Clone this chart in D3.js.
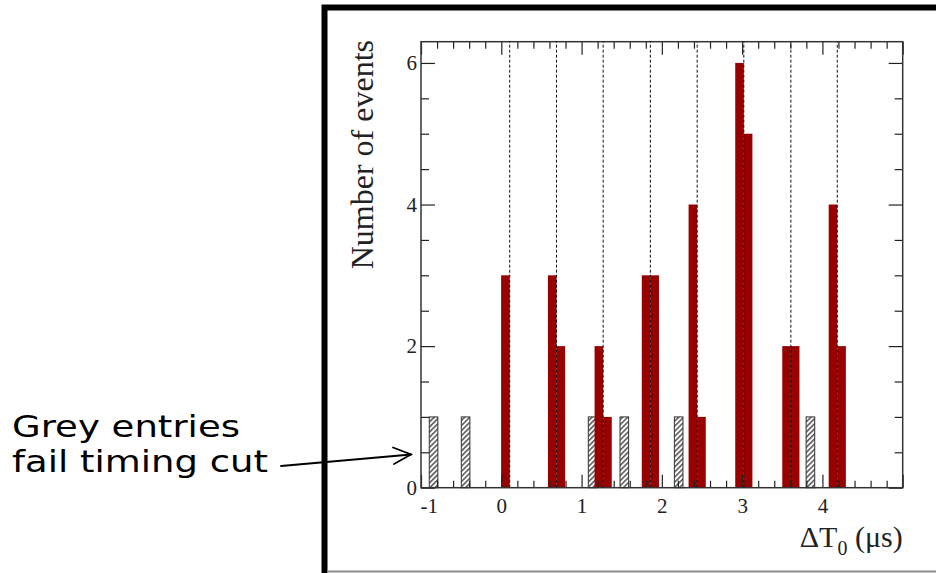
<!DOCTYPE html>
<html>
<head>
<meta charset="utf-8">
<script src="https://cdn.jsdelivr.net/npm/d3@7"></script>
<style>
  html, body { margin: 0; padding: 0; background: #fff; }
  svg { display: block; }
</style>
</head>
<body>
<svg id="chart" width="936" height="573"></svg>
<script>
// Bunch arrival times (µs): dashed reference lines
const bunchTimes = [0.105, 0.688, 1.269, 1.857, 2.440, 3.021, 3.607, 4.185];
// Events in the bin just before / just after each bunch time
const earlyCounts = [3, 3, 2, 3, 4, 6, 2, 4];
const lateCounts  = [0, 2, 1, 3, 1, 5, 2, 2];
const binWidth = 0.107;
// Entries failing the timing cut: bin start (µs) and count
const failedStarts = [-0.897, -0.498, 1.084, 1.479, 2.156, 3.797];
const failedCounts = [1, 1, 1, 1, 1, 1];
// Axis labels
const xTickLabels = [-1, 0, 1, 2, 3, 4];
const yTickLabels = [0, 2, 4, 6];
const xDomain = [-1, 5];
const yDomain = [0, 6.3];

const svg = d3.select("#chart");
const plot = { left: 421, right: 902.7, top: 41.7, bottom: 487.7 };

const x = d3.scaleLinear().domain(xDomain).range([plot.left, plot.right]);
const y = d3.scaleLinear().domain(yDomain).range([plot.bottom, plot.top]);

// hatch for the grey entries
const defs = svg.append("defs");
const pat = defs.append("pattern")
  .attr("id", "hatch").attr("patternUnits", "userSpaceOnUse")
  .attr("width", 3.6).attr("height", 3.6)
  .attr("patternTransform", "rotate(45)");
pat.append("rect").attr("width", 3.6).attr("height", 3.6).attr("fill", "#fff");
pat.append("line").attr("x1", 0.8).attr("y1", 0).attr("x2", 0.8).attr("y2", 3.6)
  .attr("stroke", "#333").attr("stroke-width", 1.3);

// outer picture frame
svg.append("path")
  .attr("d", "M324.5,573 V7.5 H936")
  .attr("fill", "none").attr("stroke", "#000").attr("stroke-width", 6);
svg.append("line")
  .attr("x1", 327).attr("x2", 936).attr("y1", 571.5).attr("y2", 571.5)
  .attr("stroke", "#8a8a8a").attr("stroke-width", 2);

// grey (failed) histogram
svg.append("g").selectAll("rect")
  .data(failedStarts.map((s, i) => ({ x0: s, n: failedCounts[i] })))
  .join("rect")
  .attr("x", d => x(d.x0))
  .attr("width", d => x(d.x0 + binWidth) - x(d.x0))
  .attr("y", d => y(d.n))
  .attr("height", d => y(0) - y(d.n))
  .attr("fill", "url(#hatch)")
  .attr("stroke", "#333").attr("stroke-width", 1);

// red (selected) histogram
const redBins = [];
bunchTimes.forEach((t, i) => {
  if (earlyCounts[i] > 0) redBins.push({ x0: t - binWidth, x1: t, n: earlyCounts[i] });
  if (lateCounts[i] > 0) redBins.push({ x0: t, x1: t + binWidth, n: lateCounts[i] });
});
svg.append("g").selectAll("rect")
  .data(redBins)
  .join("rect")
  .attr("x", d => x(d.x0))
  .attr("width", d => x(d.x1) - x(d.x0))
  .attr("y", d => y(d.n))
  .attr("height", d => y(0) - y(d.n))
  .attr("fill", "#990000");

// bunch reference lines
svg.append("g").selectAll("line")
  .data(bunchTimes)
  .join("line")
  .attr("x1", d => x(d)).attr("x2", d => x(d))
  .attr("y1", y(0)).attr("y2", plot.top)
  .attr("stroke", "#111").attr("stroke-width", 1)
  .attr("stroke-dasharray", "3,2");

// axes with inward ticks on all four sides
const near = (a, b) => Math.abs(a - b) < 1e-6;
const xMinor = d3.range(-1, 5.0001, 0.2).map(v => +v.toFixed(1))
  .filter(v => !xTickLabels.some(t => near(t, v)) && !near(v, 5));
const xMajor = xTickLabels.concat([5]);
const yMinor = d3.range(0, 6.3, 0.5).filter(v => !yTickLabels.some(t => near(t, v)));

const tickFont = "'Liberation Serif', 'Times New Roman', serif";

function styleAxis(g) {
  g.select(".domain").remove();
  g.selectAll(".tick line").attr("stroke", "#222").attr("stroke-width", 1.2);
  g.selectAll(".tick text").attr("fill", "#222")
    .style("font-family", tickFont).style("font-size", "21px");
}

svg.append("g").attr("transform", `translate(0,${plot.bottom})`)
  .call(d3.axisBottom(x).tickValues(xMinor).tickSize(-7).tickFormat(""))
  .call(styleAxis);
const xMajorAxis = svg.append("g").attr("transform", `translate(0,${plot.bottom})`)
  .call(d3.axisBottom(x).tickValues(xMajor).tickSize(-13).tickPadding(10)
    .tickFormat(d => xTickLabels.includes(d) ? String(d) : ""))
  .call(styleAxis);
// the leftmost label starts at the axis edge, clear of the y "0"
xMajorAxis.selectAll(".tick text").filter(d => d === xDomain[0])
  .attr("text-anchor", "start").attr("dx", -1);

svg.append("g").attr("transform", `translate(0,${plot.top})`)
  .call(d3.axisTop(x).tickValues(xMinor).tickSize(-7).tickFormat(""))
  .call(styleAxis);
svg.append("g").attr("transform", `translate(0,${plot.top})`)
  .call(d3.axisTop(x).tickValues(xMajor).tickSize(-13).tickFormat(""))
  .call(styleAxis);

svg.append("g").attr("transform", `translate(${plot.left},0)`)
  .call(d3.axisLeft(y).tickValues(yMinor).tickSize(-8).tickFormat(""))
  .call(styleAxis);
svg.append("g").attr("transform", `translate(${plot.left},0)`)
  .call(d3.axisLeft(y).tickValues(yTickLabels).tickSize(-14).tickPadding(4)
    .tickFormat(d => String(d)))
  .call(styleAxis);
svg.append("g").attr("transform", `translate(${plot.right},0)`)
  .call(d3.axisRight(y).tickValues(yMinor).tickSize(-8).tickFormat(""))
  .call(styleAxis);
svg.append("g").attr("transform", `translate(${plot.right},0)`)
  .call(d3.axisRight(y).tickValues(yTickLabels).tickSize(-14).tickFormat(""))
  .call(styleAxis);

// plot frame
svg.append("rect")
  .attr("x", plot.left).attr("y", plot.top)
  .attr("width", plot.right - plot.left).attr("height", plot.bottom - plot.top)
  .attr("fill", "none").attr("stroke", "#333").attr("stroke-width", 1.5);

// axis titles
const xt = svg.append("text")
  .attr("x", plot.right).attr("y", 546.5)
  .attr("text-anchor", "end")
  .style("font-family", tickFont).style("font-size", "30px").attr("fill", "#222");
xt.append("tspan").text("ΔT");
xt.append("tspan").attr("dy", 8).style("font-size", "20px").text("0");
xt.append("tspan").attr("dy", -8).text(" (μs)");

svg.append("text")
  .attr("transform", `translate(373,40) rotate(-90)`)
  .attr("text-anchor", "end")
  .style("font-family", tickFont).style("font-size", "32px").attr("fill", "#222")
  .text("Number of events");

// annotation
const noteFont = "'DejaVu Sans', Verdana, sans-serif";
svg.append("text")
  .attr("x", 12).attr("y", 436.5)
  .attr("textLength", 228).attr("lengthAdjust", "spacingAndGlyphs")
  .style("font-family", noteFont).style("font-size", "30px").attr("fill", "#000")
  .text("Grey entries");
svg.append("text")
  .attr("x", 12).attr("y", 471.5)
  .attr("textLength", 256).attr("lengthAdjust", "spacingAndGlyphs")
  .style("font-family", noteFont).style("font-size", "30px").attr("fill", "#000")
  .text("fail timing cut");

const arrow = svg.append("g").attr("stroke", "#000").attr("stroke-width", 1.8)
  .attr("fill", "none").attr("stroke-linecap", "round");
arrow.append("line").attr("x1", 281).attr("y1", 466).attr("x2", 411).attr("y2", 454.5);
arrow.append("path").attr("d", "M393,447.5 L411,454.5 L394,464");
</script>
</body>
</html>
